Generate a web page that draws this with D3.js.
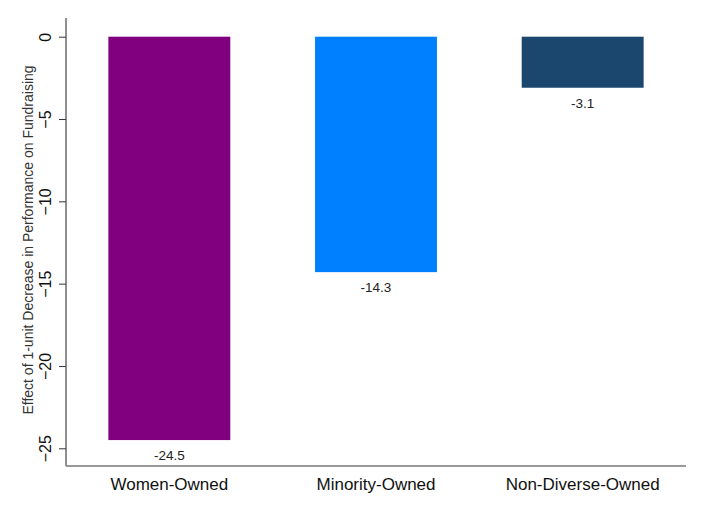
<!DOCTYPE html>
<html><head><meta charset="utf-8">
<script src="https://cdn.jsdelivr.net/npm/d3@7"></script>
<style>body{margin:0;background:#fff}svg{display:block}</style>
</head><body>
<svg id="c" width="705" height="512"></svg>
<script>
const categories = ["Women-Owned", "Minority-Owned", "Non-Diverse-Owned"];
const values = [-24.5, -14.3, -3.1];
const colors = ["#800080", "#0080ff", "#1b476f"];
const yTicks = [0, -5, -10, -15, -20, -25];
const yTitle = "Effect of 1-unit Decrease in Performance on Fundraising";

(function(){
const svg = d3.select("#c");
const mLeft = 66, mRight = 686, mTop = 18, mBottom = 466;
const y = d3.scaleLinear().domain([0, -25]).range([36.7, 448.3]);
const x = d3.scaleBand().domain(categories).range([mLeft, mRight]).paddingInner(0.41).paddingOuter(0.205);
const font = "Arial, 'Liberation Sans', sans-serif";

svg.selectAll("rect.bar").data(values).enter().append("rect")
  .attr("class","bar")
  .attr("x",(d,i)=>x(categories[i]))
  .attr("width",x.bandwidth())
  .attr("y",y(0))
  .attr("height",d=>y(d)-y(0))
  .attr("fill",(d,i)=>colors[i]);

svg.selectAll("text.val").data(values).enter().append("text")
  .attr("class","val")
  .attr("x",(d,i)=>x(categories[i])+x.bandwidth()/2)
  .attr("y",d=>y(d)+20)
  .attr("text-anchor","middle")
  .attr("font-family",font).attr("font-size",13.5).attr("fill","#222")
  .text(d=>d.toFixed(1));

// y axis
const ya = svg.append("g").attr("transform",`translate(${mLeft},0)`)
  .call(d3.axisLeft(y).tickValues(yTicks).tickSize(7).tickPadding(6).tickFormat(d3.format("d")));
ya.select(".domain").remove();
ya.selectAll(".tick line").attr("stroke","#333");
ya.selectAll(".tick text").attr("font-family",font).attr("font-size",16).attr("fill","#111")
  .attr("transform","rotate(-90)").attr("text-anchor","middle").attr("x",0).attr("dy",0)
  .attr("y",-15);
svg.append("line").attr("x1",mLeft).attr("x2",mLeft).attr("y1",mTop).attr("y2",mBottom).attr("stroke","#444").attr("stroke-width",1.2);

// x axis
svg.append("line").attr("x1",mLeft).attr("x2",mRight).attr("y1",mBottom).attr("y2",mBottom).attr("stroke","#777").attr("stroke-width",1.6);
const xa = svg.append("g").attr("transform",`translate(0,${mBottom})`)
  .call(d3.axisBottom(x).tickSize(0).tickPadding(0));
xa.select(".domain").remove();
xa.selectAll(".tick text").attr("font-family",font).attr("font-size",17).attr("fill","#111").attr("dy",0).attr("y",23.5);

svg.append("text").attr("transform",`translate(33,240) rotate(-90)`)
  .attr("text-anchor","middle").attr("font-family",font).attr("font-size",14).attr("fill","#333")
  .text(yTitle);
})();
</script>
</body></html>
